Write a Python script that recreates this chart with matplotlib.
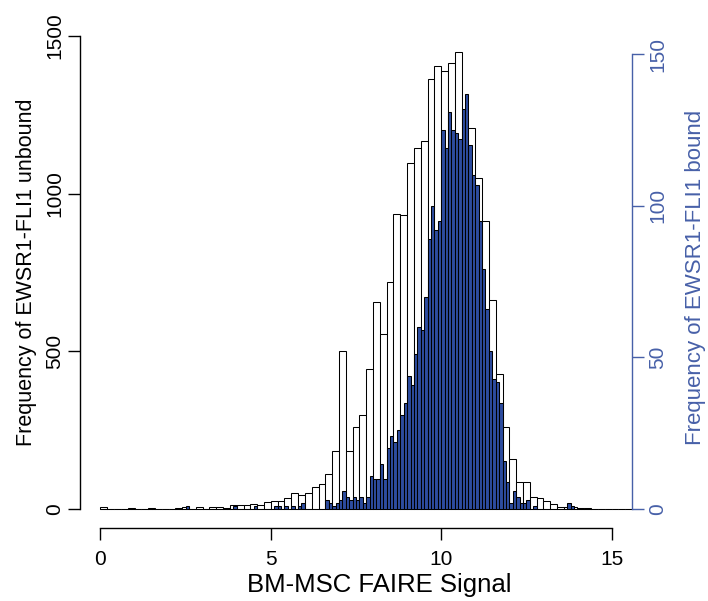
import numpy as np
import matplotlib.pyplot as plt

plt.rcParams['font.family'] = ['Liberation Sans', 'DejaVu Sans']

# unbound sites: histogram with 0.2 wide bins starting at 0
unbound_bin_width = 0.2
unbound_counts = [
    5, 0, 0, 0, 3, 0, 0, 2, 0, 1,
    0, 4, 6, 0, 8, 1, 5, 6, 3, 12,
    12, 12, 15, 12, 23, 25, 27, 34, 52, 46,
    52, 70, 80, 110, 183, 501, 185, 260, 297, 445,
    657, 554, 721, 934, 932, 1096, 1144, 1167, 1364, 1405,
    1390, 1413, 1448, 1240, 1209, 1051, 914, 663, 427, 259,
    159, 85, 87, 39, 34, 26, 16, 7, 7, 5,
    3, 2, 1, 1, 0, 1, 0, 0,
]

# bound sites: histogram with 0.1 wide bins starting at 0
bound_bin_width = 0.1
bound_counts = [
    0, 0, 0, 0, 0, 0, 0, 0, 0, 0,
    0, 0, 0, 0, 0, 0, 0, 0, 0, 0,
    0, 0, 0, 0, 0, 1, 0, 0, 0, 0,
    0, 0, 0, 0, 0, 0, 0, 0, 0, 1,
    0, 0, 0, 0, 0, 1, 0, 0, 0, 0,
    0, 1, 1, 0, 1, 0, 1, 0, 1, 2,
    0, 0, 0, 0, 0, 0, 3, 2, 1, 2,
    3, 6, 4, 3, 4, 3, 4, 2, 4, 11,
    10, 10, 15, 10, 20, 24, 22, 26, 31, 35,
    44, 41, 51, 60, 59, 70, 89, 100, 92, 95,
    125, 119, 131, 125, 124, 122, 132, 137, 120, 110,
    107, 95, 79, 66, 52, 43, 42, 35, 16, 9,
    2, 6, 4, 2, 2, 3, 0, 1, 0, 0,
    0, 0, 0, 0, 0, 0, 0, 2, 1, 0,
    0, 0, 0, 0, 0, 0, 0, 0, 0, 0,
    0, 0, 0, 0, 0, 0,
]

x_ticks = [0, 5, 10, 15]
unbound_ticks = [0, 500, 1000, 1500]
bound_ticks = [0, 50, 100, 150]

xlabel = 'BM-MSC FAIRE Signal'
ylabel_left = 'Frequency of EWSR1-FLI1 unbound'
ylabel_right = 'Frequency of EWSR1-FLI1 bound'

bar_blue = '#2d4c9f'
axis_blue = '#4760a8'

W, H = 708, 601
fig = plt.figure(figsize=(W / 100, H / 100), dpi=100)
ax = fig.add_axes([80 / W, (H - 528) / H, (632 - 80) / W, (528 - 17) / H])

ub_edges = np.arange(len(unbound_counts)) * unbound_bin_width
ax.bar(ub_edges, unbound_counts, width=unbound_bin_width, align='edge',
       color='white', edgecolor='black', linewidth=0.75)
ax.set_xlim(-0.6, 15.6)
ax.set_ylim(-60, 1560)

ax2 = ax.twinx()
b_edges = np.arange(len(bound_counts)) * bound_bin_width
ax2.bar(b_edges, bound_counts, width=bound_bin_width, align='edge',
        color=bar_blue, edgecolor='black', linewidth=0.75)
ax2.set_ylim(-6.24, 162.24)

for a in (ax, ax2):
    for s in a.spines.values():
        s.set_visible(False)

ax.spines['left'].set_visible(True)
ax.spines['left'].set_bounds(0, 1500)
ax.spines['bottom'].set_visible(True)
ax.spines['bottom'].set_bounds(0, 15)
ax2.spines['right'].set_visible(True)
ax2.spines['right'].set_bounds(0, 150)
ax2.spines['right'].set_color(axis_blue)
for s in (ax.spines['left'], ax.spines['bottom'], ax2.spines['right']):
    s.set_linewidth(1.0)

ax.set_xticks(x_ticks)
ax.set_xticklabels([str(v) for v in x_ticks])
ax.set_yticks(unbound_ticks)
ax.set_yticklabels([str(v) for v in unbound_ticks], rotation=90, va='center')
ax2.set_yticks(bound_ticks)
ax2.set_yticklabels([str(v) for v in bound_ticks], rotation=90, va='center')

ax.tick_params(axis='both', length=8.5, width=1.0, labelsize=15, direction='out')
ax.tick_params(axis='x', pad=7)
ax.tick_params(axis='y', pad=3)
ax2.tick_params(axis='y', length=8.5, width=1.0, labelsize=15, direction='out',
                color=axis_blue, labelcolor=axis_blue, pad=3)

fig.text(379 / W, 1 - 585 / H, xlabel, ha='center', va='center', fontsize=18.5)
fig.text(27 / W, 1 - 272 / H, ylabel_left, ha='center', va='center',
         rotation=90, fontsize=15.5)
fig.text(696 / W, 1 - 277 / H, ylabel_right, ha='center', va='center',
         rotation=90, fontsize=16, color=axis_blue)

fig.savefig('out.png', dpi=100)
